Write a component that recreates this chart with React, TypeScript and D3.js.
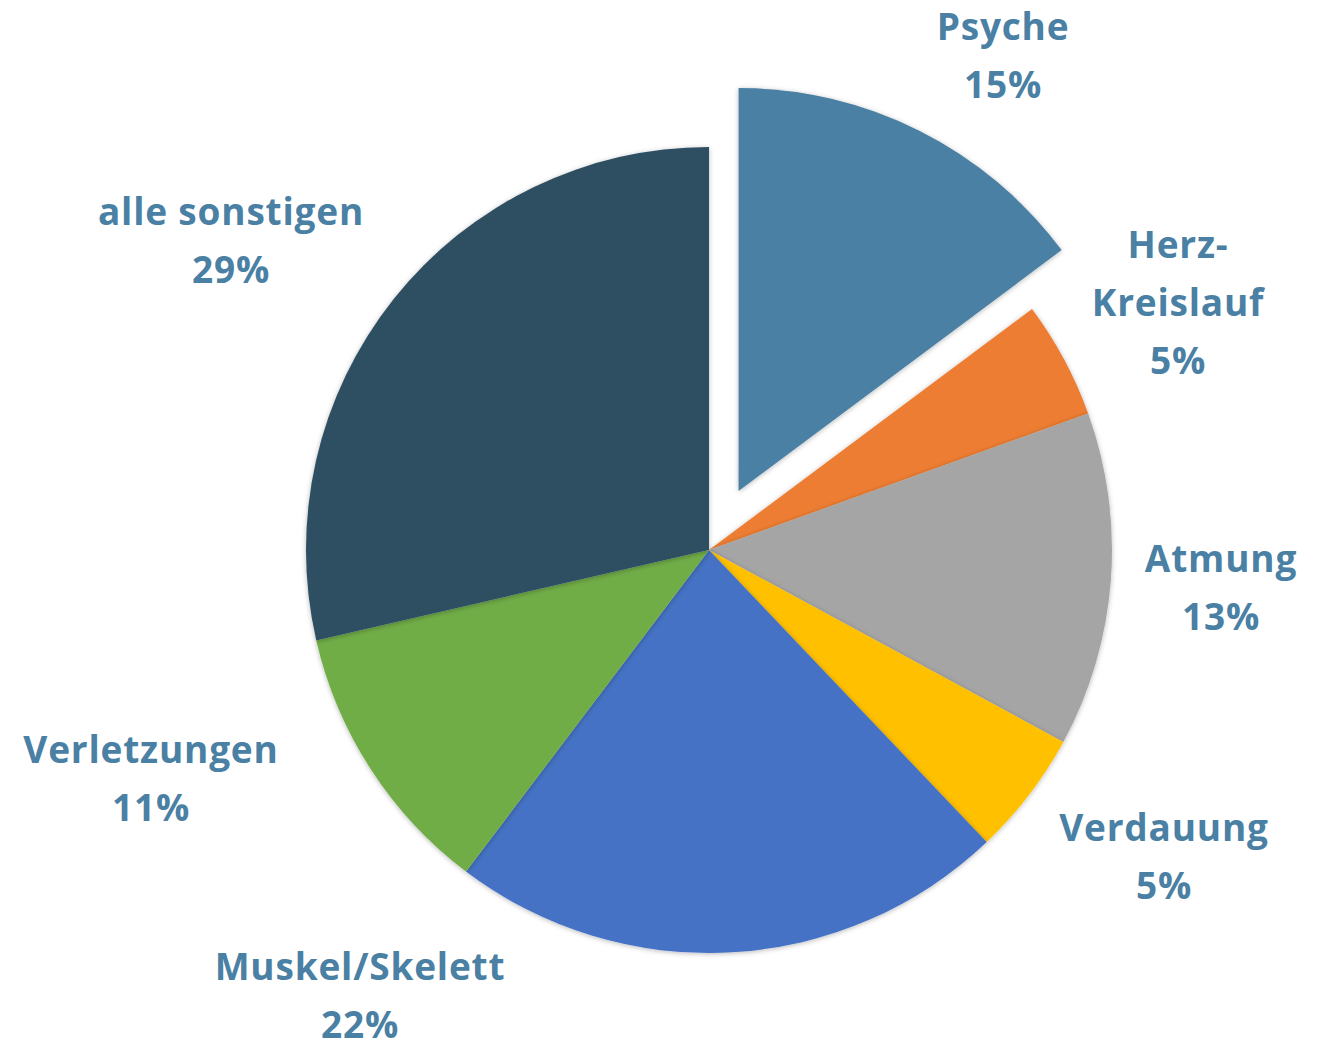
import React from "react";
import * as d3 from "d3";

const categories = ["Psyche", "Herz-Kreislauf", "Atmung", "Verdauung", "Muskel/Skelett", "Verletzungen", "alle sonstigen"];
const values = [14.8, 4.7, 13.4, 5.0, 22.4, 11.1, 28.6];
const colors = ["#4A80A4", "#ED7D31", "#A5A5A5", "#FFC000", "#4472C4", "#70AD47", "#2E4F62"];
const labelLines = [["Psyche"], ["Herz-", "Kreislauf"], ["Atmung"], ["Verdauung"], ["Muskel/Skelett"], ["Verletzungen"], ["alle sonstigen"]];
const explode = [66, 0, 0, 0, 0, 0, 0];

// label layout: center x and first baseline y (pixels)
const labelLayout = [
  { x: 1003, y: 40 },
  { x: 1178, y: 258 },
  { x: 1221, y: 572 },
  { x: 1164, y: 841 },
  { x: 360, y: 980 },
  { x: 151, y: 763 },
  { x: 231, y: 225 },
];

const W = 1326;
const H = 1041;
const cx = 709;
const cy = 550;
const R = 403;
const lineH = 58;

export default function App() {
  const pie = d3.pie<number>().sort(null).value((d) => d);
  const arcs = pie(values);
  const arc = d3.arc<d3.PieArcDatum<number>>().innerRadius(0).outerRadius(R);
  const total = d3.sum(values);

  return (
    <svg width={W} height={H} style={{ position: "absolute", left: 0, top: 0, background: "#fff" }}>
      <defs>
        <filter id="sh" x="-20%" y="-20%" width="140%" height="140%">
          <feDropShadow dx="0" dy="1" stdDeviation="2.5" floodColor="#000" floodOpacity="0.28" />
        </filter>
      </defs>
      <g transform={`translate(${cx},${cy})`}>
        {arcs.map((a, i) => {
          const mid = (a.startAngle + a.endAngle) / 2;
          const ox = Math.sin(mid) * explode[i];
          const oy = -Math.cos(mid) * explode[i];
          return (
            <path
              key={i}
              d={arc(a) || ""}
              fill={colors[i]}
              transform={`translate(${ox},${oy})`}
              filter="url(#sh)"
            />
          );
        })}
      </g>
      {categories.map((c, i) => {
        const lines = [...labelLines[i], `${Math.round((values[i] / total) * 100)}%`];
        const L = labelLayout[i];
        return (
          <text
            key={c}
            x={L.x}
            y={L.y}
            textAnchor="middle"
            fontFamily="'Open Sans', sans-serif"
            fontWeight={700}
            fontSize={37}
            letterSpacing={0.8}
            fill="#4A80A4"
          >
            {lines.map((ln, j) => (
              <tspan key={j} x={L.x} y={L.y + j * lineH}>
                {ln}
              </tspan>
            ))}
          </text>
        );
      })}
    </svg>
  );
}
